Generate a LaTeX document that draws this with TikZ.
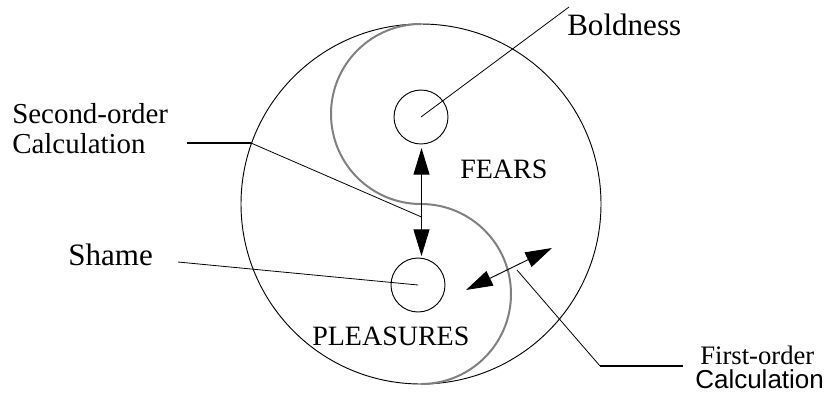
\documentclass[tikz,border=0pt]{standalone}
\usepackage{fontspec}
\setmainfont{Liberation Serif}
\newfontfamily\armfont{Liberation Sans}
\usetikzlibrary{arrows.meta}

\tikzset{
  ring/.style={draw,circle,inner sep=0pt,line width=0.7pt},
  lbl/.style={anchor=base west,inner sep=0pt},
  lead/.style={line width=0.6pt},
  shelf/.style={line width=1.3pt},
  dblarrow/.style={line width=0.7pt,{Triangle[length=20pt,width=12pt]}-{Triangle[length=20pt,width=12pt]}}
}

\begin{document}
\begin{tikzpicture}[x=0.75pt,y=-0.75pt]

\useasboundingbox (0,0) rectangle (832,394);

% Outer circle
\node[ring,minimum size=270pt] (whole) at (421,204) {};

% Dividing curve
\draw[black!50,line width=1.5pt] (421,24) arc (270:90:90) arc (-90:90:90);

% Inner circles
\node[ring,minimum size=40.5pt] (bold) at (421,117) {};
\node[ring,minimum size=40.5pt] (shame) at (418,285) {};

% Labels
\node[lbl,font=\fontsize{23.3}{26}\selectfont] (tbold) at (567,35) {Boldness};
\node[lbl,font=\fontsize{23.3}{26}\selectfont] (tshame) at (68,265) {Shame};
\node[lbl,font=\fontsize{21.7}{24}\selectfont] (tsec) at (12,123) {Second-order};
\node[lbl,font=\fontsize{21.7}{24}\selectfont] (tsecb) at (12,153) {Calculation};
\node[lbl,font=\fontsize{21}{24}\selectfont] (fears) at (460,178) {FEARS};
\node[lbl,font=\fontsize{21}{24}\selectfont] (pleas) at (312,345) {PLEASURES};
\node[lbl,text depth=0pt,font=\fontsize{20}{22}\selectfont] (tfirst) at (700,364) {First-order};
\node[lbl,text height=10.5pt,font=\armfont\fontsize{19.5}{22}\selectfont] (tfirstb) at (695,388) {Calculation};

% Arrow ends
\coordinate (vup) at (421.5,148);
\coordinate (vdown) at (421.5,256);
\coordinate (dlow) at (466,290);
\coordinate (dhigh) at (552,248);

% Arrows
\draw[dblarrow] (vup) -- (vdown);
\draw[dblarrow] (dlow) -- (dhigh);

% Leader lines
\coordinate (bend) at (569,7);
\coordinate (secA) at (187,143);
\coordinate (secB) at (251,143);
\coordinate (secC) at (421.5,217);
\coordinate (shameA) at (178,262);
\coordinate (firstA) at (517,270);
\coordinate (firstB) at (600,366);
\coordinate (firstC) at (683,366);

\draw[lead] (bend) -- (bold.center);
\draw[lead] (shameA) -- (shame.center);
\draw[shelf] (secA) -- (secB);
\draw[lead] (secB) -- (secC);
\draw[lead] (firstA) -- (firstB);
\draw[shelf] (firstB) -- (firstC);

\end{tikzpicture}
\end{document}
